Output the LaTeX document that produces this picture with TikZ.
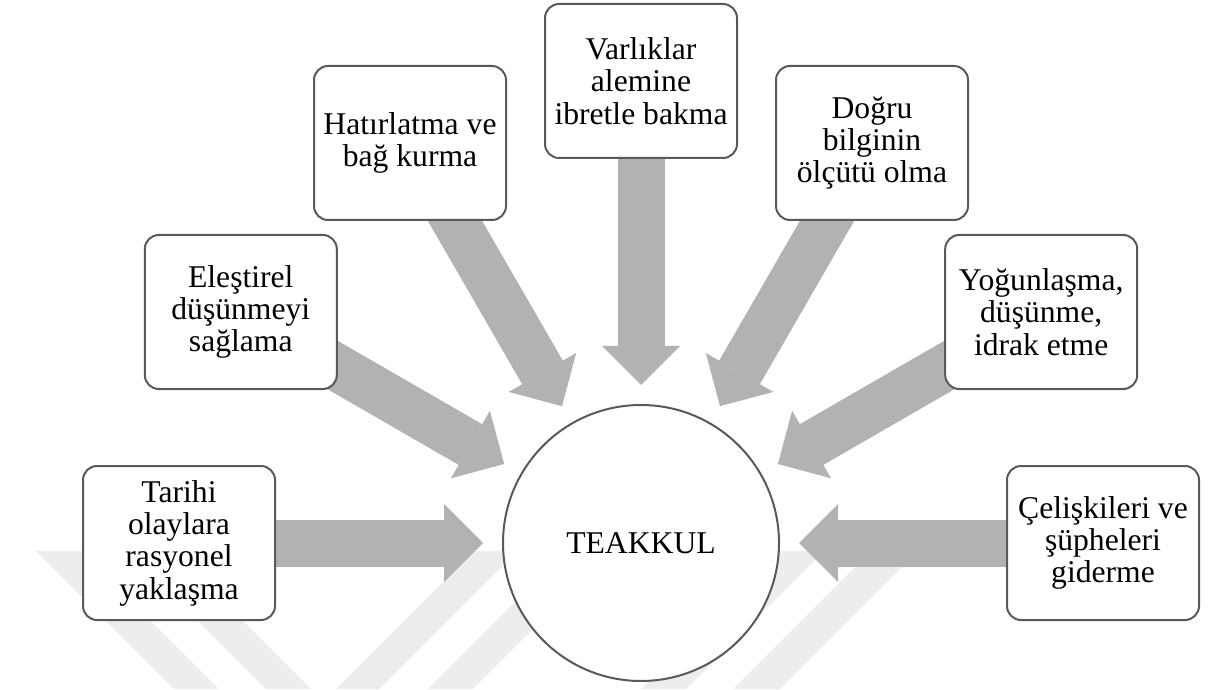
\documentclass[tikz,border=0pt]{standalone}
\usepackage{fontspec}
\setmainfont{Liberation Serif}
\usepackage{tikz}
\tikzset{
    fatarrow/.style={ % requires library arrows.meta
        draw=black!30,
        line width=#1,
        -{Triangle[length=0.975cm,width=1.95cm,line width=0pt]},
        shorten >=0.475cm
    },
}
\usetikzlibrary{arrows.meta,calc}
\usetikzlibrary{positioning}
\pgfdeclarelayer{background}
\pgfsetlayers{background,main}

\begin{document}
\begin{tikzpicture}
\tikzstyle{cbox}=[rectangle,rounded corners=0.35cm,fill=white,draw=black!65,line width=0.05cm,minimum width=4.8cm,minimum height=3.85cm,align=center,font=\fontsize{22.5}{23}\selectfont]
\tikzstyle{cvertex}=[circle,fill=white,draw=black!65,line width=0.05cm,minimum size=6.9cm,inner sep=0pt,font=\fontsize{22.5}{23}\selectfont]
\tikzstyle{wmark}=[fill=black!7]

\useasboundingbox (0,0) rectangle (30.4,17.225);

%CENTER
\node[cvertex] (teakkul) at (16.025,3.65) {TEAKKUL};

%%%%%%%%%%%%%%%%%%%%%%%%%%%%%%%%%%%%%%%%%%%%%%%%%%%%%%%%%%%%%%%%%%%%%%%%
%boxes
%left
\node[cbox] (tarihi) at (4.475,3.65) {Tarihi\\olaylara\\rasyonel\\yaklaşma};
\node[cbox] (elestirel) at (6.02,9.425) {Eleştirel\\düşünmeyi\\sağlama};
\node[cbox] (hatirlatma) at (10.25,13.65) {Hatırlatma ve\\bağ kurma};
%top
\node[cbox] (varliklar) at (16.025,15.2) {Varlıklar\\alemine\\ibretle bakma};
%right
\node[cbox] (dogru) at (21.8,13.65) {Doğru\\bilginin\\ölçütü olma};
\node[cbox] (yogunlasma) at (26.03,9.425) {Yoğunlaşma,\\düşünme,\\idrak etme};
\node[cbox] (celiskiler) at (27.575,3.65) {Çelişkileri ve\\şüpheleri\\giderme};

\begin{pgfonlayer}{background}
%%%%%%%%%%%%%%%%%%%%%%%%%%%%%%%%%%%%%%%%%%%%%%%%%%%%%%%%%%%%%%%%%%%%%%%%
%watermark
\begin{scope}
\clip (0,0) rectangle (30.4,3.45);
%down
\fill[wmark] (4.35,0) -- (5.475,0) -- (2.025,3.45) -- (0.9,3.45) -- cycle;
\fill[wmark] (6.65,0) -- (7.775,0) -- (4.325,3.45) -- (3.2,3.45) -- cycle;
%up
\fill[wmark] (8.4,0) -- (9.475,0) -- (12.925,3.45) -- (11.85,3.45) -- cycle;
\fill[wmark] (10.7,0) -- (11.825,0) -- (15.275,3.45) -- (14.15,3.45) -- cycle;
\fill[wmark] (16.025,0) -- (17.15,0) -- (20.6,3.45) -- (19.475,3.45) -- cycle;
\fill[wmark] (18.325,0) -- (19.5,0) -- (22.95,3.45) -- (21.775,3.45) -- cycle;
\end{scope}

%%%%%%%%%%%%%%%%%%%%%%%%%%%%%%%%%%%%%%%%%%%%%%%%%%%%%%%%%%%%%%
%ARROWS
\draw[fatarrow=1.175cm] (tarihi.center) -- (teakkul);
\draw[fatarrow=1.175cm] (elestirel.center) -- (teakkul);
\draw[fatarrow=1.175cm] (hatirlatma.center) -- (teakkul);
\draw[fatarrow=1.175cm] (varliklar.center) -- (teakkul);
\draw[fatarrow=1.175cm] (dogru.center) -- (teakkul);
\draw[fatarrow=1.175cm] (yogunlasma.center) -- (teakkul);
\draw[fatarrow=1.175cm] (celiskiler.center) -- (teakkul);
\end{pgfonlayer}

\end{tikzpicture}
\end{document}
